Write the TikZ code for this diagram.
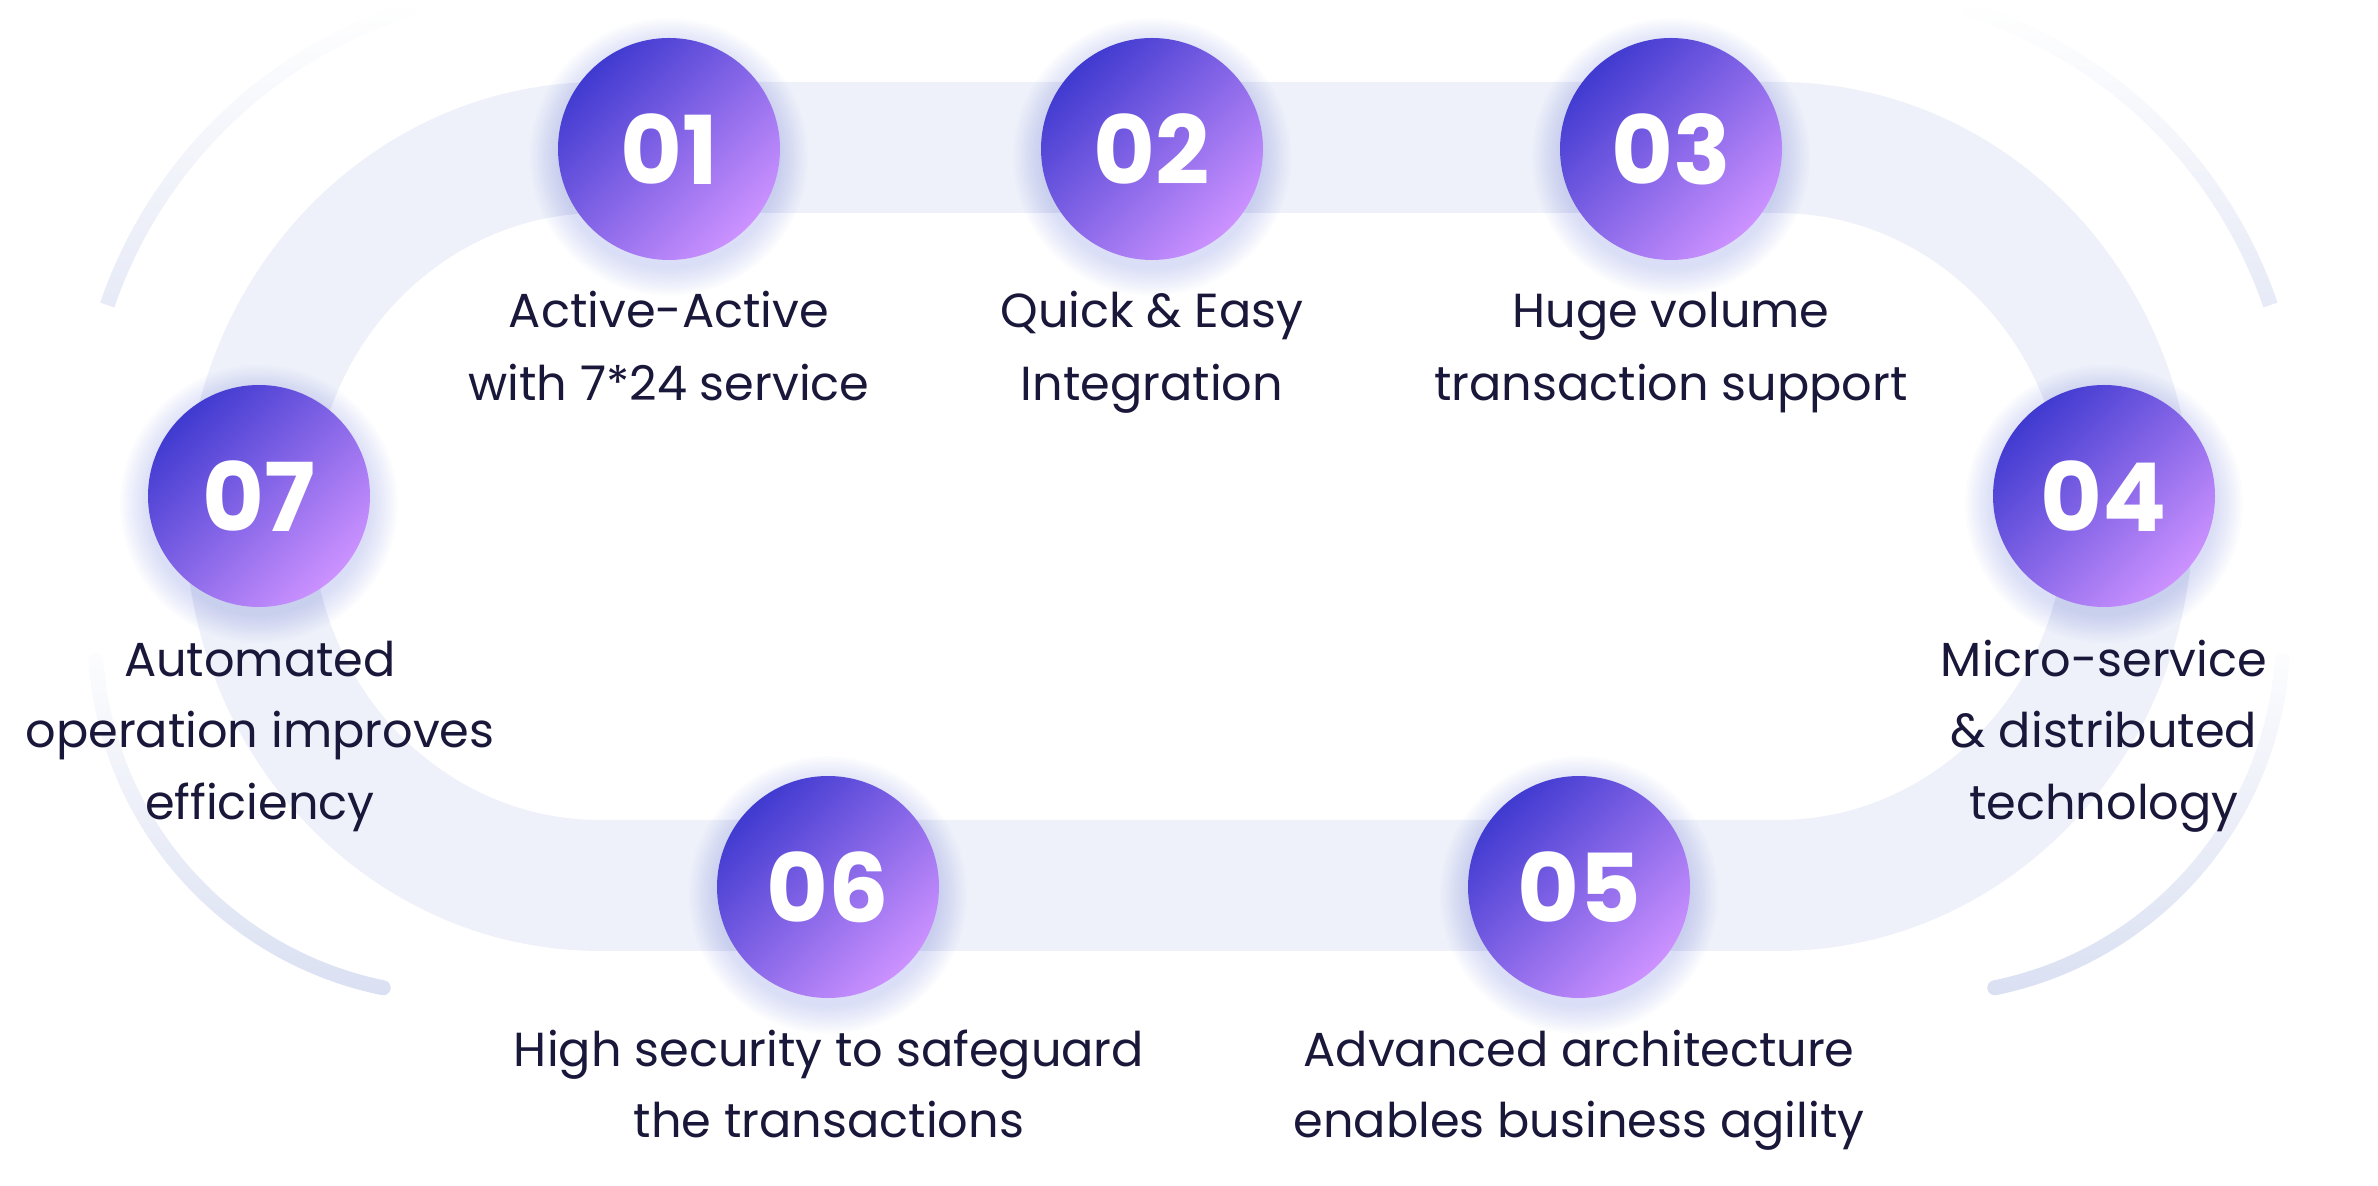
\documentclass[tikz,border=0pt]{standalone}
\usepackage{fontspec}
\setmainfont{Poppins}
\usetikzlibrary{fadings}
\definecolor{bandc}{RGB}{238,241,250}
\definecolor{arcc}{RGB}{218,224,242}
\definecolor{txtc}{RGB}{26,24,58}
\definecolor{gA}{RGB}{64,58,208}
\definecolor{gB}{RGB}{204,146,255}
\definecolor{glowc}{RGB}{140,152,226}
\tikzfading[name=arcfade, top color=transparent!100, bottom color=transparent!0]
\begin{document}
\begin{tikzpicture}[x=1pt,y=1pt,
  lbl/.style={anchor=base, text=txtc, inner sep=0pt, font=\fontsize{47.8}{70}\selectfont},
  numdisc/.style={circle, minimum size=222pt, inner sep=0pt, top color=gA, bottom color=gB, shading angle=45, text=white, font=\fontsize{95}{95}\selectfont\bfseries},
  outarc/.style={draw=arcc, line width=15pt, path fading=arcfade},
  glowring/.style={fill=glowc, opacity=0.03}
]
\useasboundingbox (0,0) rectangle (2378,1186);
% track band
\fill[bandc, even odd rule]
  (600,1104) -- (1778,1104) arc[start angle=90, end angle=-90, x radius=415, y radius=434.5]
  -- (600,235) arc[start angle=270, end angle=90, x radius=415, y radius=434.5] -- cycle
  (600,973) -- (1778,973) arc[start angle=90, end angle=-90, x radius=288, y radius=303.5]
  -- (600,366) arc[start angle=270, end angle=90, x radius=288, y radius=303.5] -- cycle;
% outer thin arcs
\coordinate (tlc) at (552,729);
\coordinate (blc) at (455,551);
\coordinate (trc) at (1826,729);
\coordinate (brc) at (1923,551);
\draw[outarc, line cap=butt] (tlc) ++(106.9:470) arc[start angle=106.9, end angle=161.1, radius=470];
\draw[outarc, line cap=round] (blc) ++(184:360) arc[start angle=184, end angle=258.5, radius=360];
\draw[outarc, line cap=butt] (trc) ++(73.1:470) arc[start angle=73.1, end angle=18.9, radius=470];
\draw[outarc, line cap=round] (brc) ++(-4:360) arc[start angle=-4, end angle=-78.5, radius=360];
% circle centres
\coordinate (p1) at (669,1037);
\coordinate (p2) at (1152,1037);
\coordinate (p3) at (1671,1037);
\coordinate (p4) at (2104,690);
\coordinate (p5) at (1579,299);
\coordinate (p6) at (828,299);
\coordinate (p7) at (259,690);
% glow
\foreach \p in {p1,p2,p3,p4,p5,p6,p7}{
  \foreach \k in {1,...,12}{
    \fill[glowring] (\p) ++(0,-8) circle[radius={110+2.4*\k}];
  }
}
% discs
\node[numdisc] (c1) at (p1) {01};
\node[numdisc] (c2) at (p2) {02};
\node[numdisc] (c3) at (p3) {03};
\node[numdisc] (c4) at (p4) {04};
\node[numdisc] (c5) at (p5) {05};
\node[numdisc] (c6) at (p6) {06};
\node[numdisc] (c7) at (p7) {07};
% labels
\node[lbl] (t1a) at (669,858) {Active-Active};
\node[lbl] (t1b) at (669,785) {with 7*24 service};
\node[lbl] (t2a) at (1152,858) {Quick \& Easy};
\node[lbl] (t2b) at (1152,785) {Integration};
\node[lbl] (t3a) at (1671,858) {Huge volume};
\node[lbl] (t3b) at (1671,785) {transaction support};
\node[lbl] (t4a) at (2104,509) {Micro-service};
\node[lbl] (t4b) at (2104,438) {\& distributed};
\node[lbl] (t4c) at (2104,366) {technology};
\node[lbl] (t5a) at (1579,119) {Advanced architecture};
\node[lbl] (t5b) at (1579,48) {enables business agility};
\node[lbl] (t6a) at (829,119) {High security to safeguard};
\node[lbl] (t6b) at (829,48) {the transactions};
\node[lbl] (t7a) at (260,509) {Automated};
\node[lbl] (t7b) at (260,438) {operation improves};
\node[lbl] (t7c) at (260,366) {efficiency};
\end{tikzpicture}
\end{document}
